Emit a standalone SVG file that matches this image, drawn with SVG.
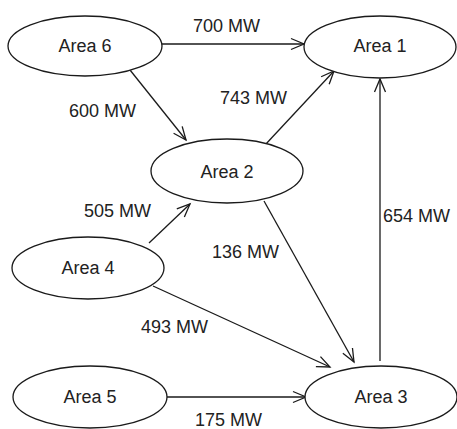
<svg xmlns="http://www.w3.org/2000/svg" width="457" height="429" viewBox="0 0 457 429">
<style>
.n ellipse{fill:#fff;stroke:#1a1a1a;stroke-width:1.3}
text{font-family:"Liberation Sans",Arial,sans-serif;font-size:18px;fill:#222}
.n text{text-anchor:middle}
.c line{stroke:#1a1a1a;stroke-width:1.3;marker-end:url(#ah)}
</style>
<defs>
<marker id="ah" markerUnits="userSpaceOnUse" markerWidth="20" markerHeight="20" refX="0" refY="0" viewBox="-15 -10 20 20" orient="auto" overflow="visible">
<path d="M-13,-5.5 L0,0 L-13,5.5" fill="none" stroke="#1a1a1a" stroke-width="1.3"/>
</marker>
</defs>
<g class="c">
<line x1="162" y1="44" x2="304" y2="44"/>
<line x1="130" y1="70" x2="186" y2="140"/>
<line x1="265" y1="145" x2="334" y2="71"/>
<line x1="380" y1="361" x2="380" y2="79"/>
<line x1="149" y1="243" x2="190" y2="204"/>
<line x1="264" y1="201" x2="354" y2="362"/>
<line x1="153" y1="286" x2="330" y2="367"/>
<line x1="166" y1="397" x2="306" y2="397"/>
</g>
<g class="l">
<text x="193" y="32">700 MW</text>
<text x="69" y="117">600 MW</text>
<text x="220" y="104">743 MW</text>
<text x="84" y="217">505 MW</text>
<text x="212" y="258">136 MW</text>
<text x="383" y="222">654 MW</text>
<text x="141" y="333">493 MW</text>
<text x="195" y="426">175 MW</text>
</g>
<g class="n" id="area6"><ellipse cx="85" cy="46" rx="77" ry="30"/><text x="85" y="52">Area 6</text></g>
<g class="n" id="area1"><ellipse cx="380" cy="47" rx="76" ry="31"/><text x="380" y="52">Area 1</text></g>
<g class="n" id="area2"><ellipse cx="227" cy="171" rx="76" ry="32"/><text x="227" y="178">Area 2</text></g>
<g class="n" id="area4"><ellipse cx="88" cy="268" rx="76" ry="31"/><text x="88" y="274">Area 4</text></g>
<g class="n" id="area5"><ellipse cx="90" cy="397" rx="77" ry="31"/><text x="90" y="403">Area 5</text></g>
<g class="n" id="area3"><ellipse cx="381" cy="397" rx="76" ry="31"/><text x="381" y="403">Area 3</text></g>
</svg>
